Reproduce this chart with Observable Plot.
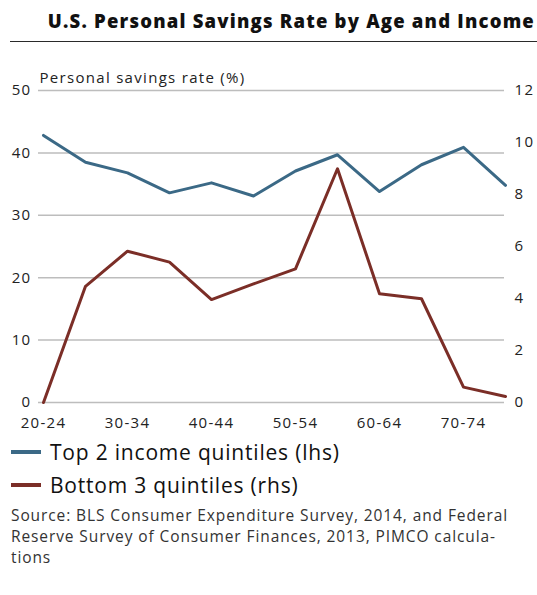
<!DOCTYPE html>
<html>
<head>
<meta charset="utf-8">
<script src="https://cdn.jsdelivr.net/npm/d3@7"></script>
<script src="https://cdn.jsdelivr.net/npm/@observablehq/plot@0.6"></script>
<style>
  body { margin: 0; background: #fff; font-family: "Open Sans", sans-serif; color: #222; width: 537px; }
  #title { margin-left: 10px; height: 42px; border-bottom: 1.5px solid #2a2a2a; box-sizing: border-box; text-align: right; font-weight: 800; font-size: 18.5px; letter-spacing: 1.2px; line-height: 20px; padding-top: 11px; padding-right: 2px; color: #111; white-space: nowrap; }
  #chart svg { display: block; }
  #chart svg text { letter-spacing: 1.3px; }
  .legend { margin-left: 11px; margin-top: -2px; }
  .item { display: flex; align-items: center; height: 33px; font-size: 21px; letter-spacing: 0.8px; color: #111; white-space: nowrap; }
  .sw { width: 30px; height: 4px; margin-right: 9px; }
  #source { margin-left: 11px; margin-top: 3.5px; font-size: 15.5px; letter-spacing: 0.9px; line-height: 21px; color: #333; white-space: nowrap; }
</style>
</head>
<body>
<div id="title">U.S. Personal Savings Rate by Age and Income</div>
<div id="chart"></div>
<div class="legend">
  <div class="item"><div class="sw" style="background:#3b6986"></div>Top 2 income quintiles (lhs)</div>
  <div class="item"><div class="sw" style="background:#7b2e27"></div>Bottom 3 quintiles (rhs)</div>
</div>
<div id="source">Source: BLS Consumer Expenditure Survey, 2014, and Federal<br>Reserve Survey of Consumer Finances, 2013, PIMCO calcula-<br>tions</div>
<script>
const ages = ["20-24","25-29","30-34","35-39","40-44","45-49","50-54","55-59","60-64","65-69","70-74","75-79"];
const top2 = [42.8, 38.5, 36.8, 33.6, 35.2, 33.1, 37.1, 39.7, 33.8, 38.1, 40.9, 34.8];
const bottom3 = [0, 4.47, 5.82, 5.40, 3.96, 4.56, 5.14, 8.99, 4.18, 3.99, 0.59, 0.23];
const leftTicks = [0, 10, 20, 30, 40, 50];
const rightTicks = [0, 2, 4, 6, 8, 10, 12];
const xLabels = ["20-24","30-34","40-44","50-54","60-64","70-74"];
const ratio = 50 / 12;

const blueData = ages.map((a, i) => ({age: a, v: top2[i]}));
const redData = ages.map((a, i) => ({age: a, v: bottom3[i] * ratio}));

const chart = Plot.plot({
  width: 537,
  height: 395,
  marginTop: 48,
  marginBottom: 35,
  marginLeft: 38,
  marginRight: 28,
  style: {fontFamily: "Open Sans, sans-serif", fontSize: "15px", color: "#222"},
  x: {type: "point", domain: ages, padding: 0},
  y: {domain: [0, 50]},
  marks: [
    Plot.ruleY(leftTicks, {stroke: "#bdbdbd", strokeWidth: 1.5, insetRight: 5}),
    Plot.axisY({anchor: "left", ticks: leftTicks, tickSize: 0, tickPadding: 7, label: null, fontSize: 15}),
    Plot.axisY({anchor: "right", ticks: rightTicks.map(v => v * ratio), tickFormat: d => String(Math.round(d / ratio)), tickSize: 0, tickPadding: 5, label: null, fontSize: 15}),
    Plot.axisX({ticks: xLabels, tickSize: 0, tickPadding: 15, label: null, fontSize: 15}),
    Plot.text(["Personal savings rate (%)"], {frameAnchor: "top-left", dx: 1, dy: -18, textAnchor: "start", fontSize: 15, fill: "#222"}),
    Plot.line(blueData, {x: "age", y: "v", stroke: "#3b6986", strokeWidth: 3}),
    Plot.line(redData, {x: "age", y: "v", stroke: "#7b2e27", strokeWidth: 3})
  ]
});
document.getElementById("chart").append(chart);
</script>
</body>
</html>
